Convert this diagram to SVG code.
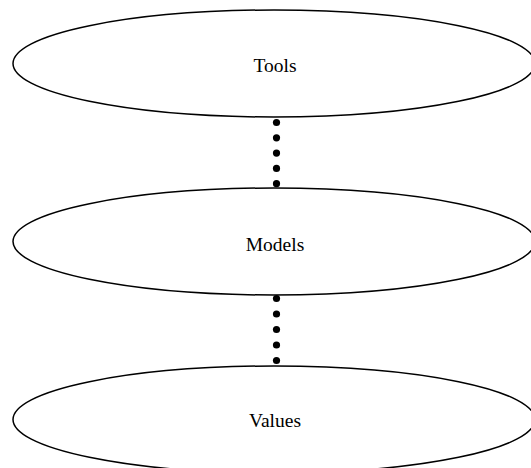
<svg xmlns="http://www.w3.org/2000/svg" width="531" height="468" viewBox="0 0 531 468">
<style>
.node ellipse{fill:#fff;stroke:#000;stroke-width:1.5}
.node text{font-family:"Liberation Serif","Times New Roman",serif;font-size:19.5px;fill:#000;text-anchor:middle}
.conn circle{fill:#000;r:3.6}
</style>
<rect width="531" height="468" fill="#fff"/>
<g id="tools" class="node">
<ellipse cx="274" cy="63.5" rx="261" ry="53.5"/>
<text x="275" y="71.5">Tools</text>
</g>
<g id="models" class="node">
<ellipse cx="274" cy="241.5" rx="261" ry="53.5"/>
<text x="275" y="251">Models</text>
</g>
<g id="values" class="node">
<ellipse cx="274" cy="419.5" rx="261" ry="53.5"/>
<text x="275" y="427">Values</text>
</g>
<g id="connectors" class="conn">
<g id="tools-models">
<circle cx="276.5" cy="122.5" r="3.6"/>
<circle cx="276.5" cy="137.8" r="3.6"/>
<circle cx="276.5" cy="153.1" r="3.6"/>
<circle cx="276.5" cy="168.4" r="3.6"/>
<circle cx="276.5" cy="183.7" r="3.6"/>
</g>
<g id="models-values">
<circle cx="276.5" cy="298.5" r="3.6"/>
<circle cx="276.5" cy="314" r="3.6"/>
<circle cx="276.5" cy="329.5" r="3.6"/>
<circle cx="276.5" cy="345" r="3.6"/>
<circle cx="276.5" cy="360.5" r="3.6"/>
</g>
</g>
</svg>
